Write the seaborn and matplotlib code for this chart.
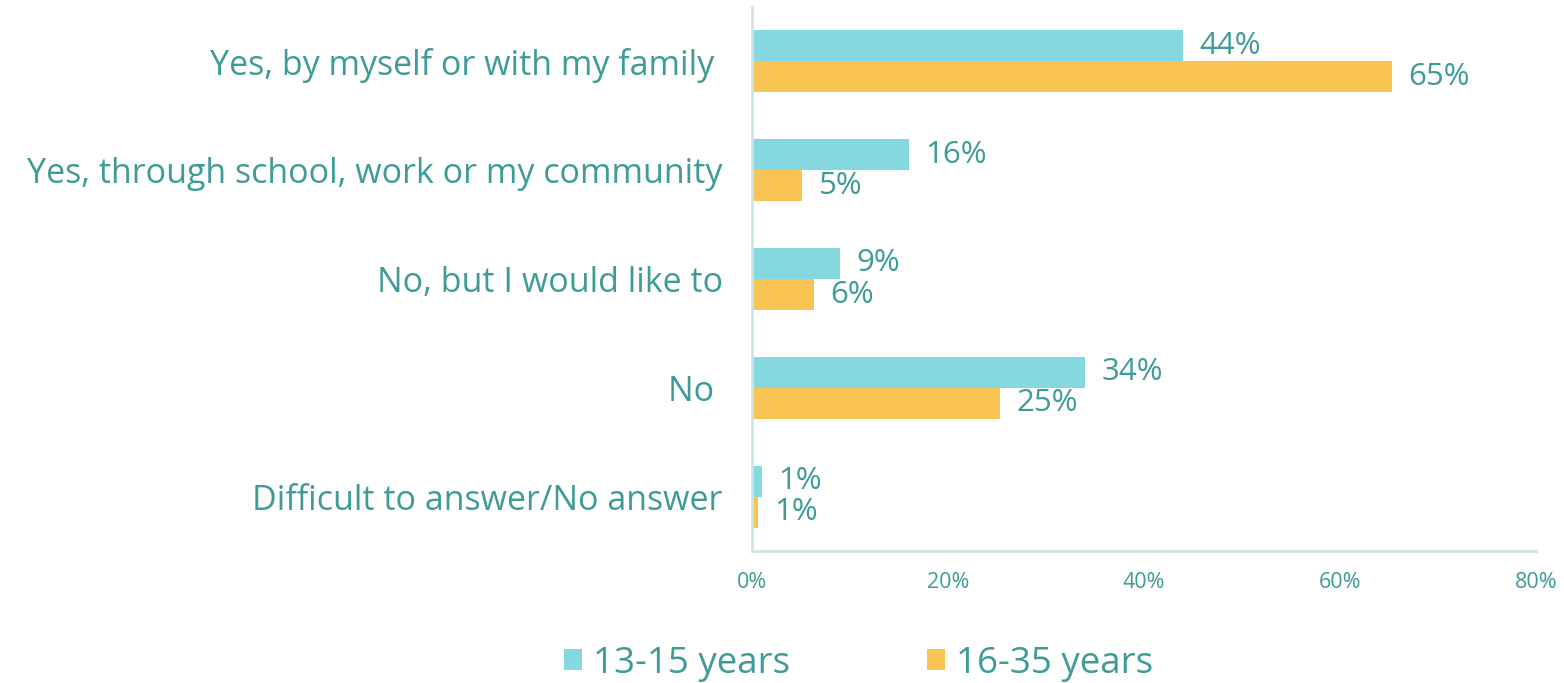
import matplotlib
matplotlib.use("Agg")
import matplotlib.pyplot as plt
import seaborn as sns
import pandas as pd
from matplotlib.patches import Patch

categories = ["Yes, by myself or with my family ",
              "Yes, through school, work or my community",
              "No, but I would like to",
              "No ",
              "Difficult to answer/No answer"]
series_names = ["13-15 years", "16-35 years"]
values_13_15 = [44.0, 16.0, 9.0, 34.0, 1.0]
values_16_35 = [65.3, 5.1, 6.3, 25.3, 0.6]
labels_13_15 = ["44%", "16%", "9%", "34%", "1%"]
labels_16_35 = ["65%", "5%", "6%", "25%", "1%"]
x_ticks = [0, 20, 40, 60, 80]
x_tick_labels = ["0%", "20%", "40%", "60%", "80%"]

colors = ["#86D8E0", "#F9C453"]
text_color = "#3E9C98"
axis_color = "#CCE4E4"

df = pd.DataFrame({
    "category": categories * 2,
    "series": [series_names[0]] * 5 + [series_names[1]] * 5,
    "value": values_13_15 + values_16_35,
})

sns.set_theme(style="white")
plt.rcParams['font.family'] = ['Open Sans', 'DejaVu Sans']

fig = plt.figure(figsize=(15.64, 6.83), dpi=100)
ax = fig.add_axes([752/1564, 1-551/683, (1536-752)/1564, (551-7)/683])

sns.barplot(data=df, y="category", x="value", hue="series", orient="h",
            palette=colors, order=categories, hue_order=series_names,
            width=0.57, saturation=1, linewidth=0, ax=ax, legend=False)

for cont, labs in zip(ax.containers, [labels_13_15, labels_16_35]):
    ax.bar_label(cont, labels=labs, padding=12, color=text_color, fontsize=22.5)

ax.set_xlim(0, 80)
ax.set_xticks(x_ticks)
ax.set_xticklabels(x_tick_labels, color=text_color, fontsize=15.5)
ax.set_xlabel("")
ax.set_ylabel("")
ax.tick_params(axis="y", length=0, pad=21, labelsize=24.5, labelcolor=text_color)
ax.tick_params(axis="x", length=5, width=1.5, color=axis_color, direction="in", pad=15)
for s in ["top", "right"]:
    ax.spines[s].set_visible(False)
for s in ["left", "bottom"]:
    ax.spines[s].set_color(axis_color)
    ax.spines[s].set_linewidth(2)
ax.grid(False)

handles = [Patch(facecolor=c, edgecolor="none") for c in colors]
fig.legend(handles, series_names, loc="center", bbox_to_anchor=(0.549, 0.028),
           ncol=2, frameon=False, fontsize=26.5, labelcolor=text_color,
           handlelength=0.5, handleheight=0.5, handletextpad=0.3,
           columnspacing=3.7)

fig.savefig("out.png", dpi=100)
